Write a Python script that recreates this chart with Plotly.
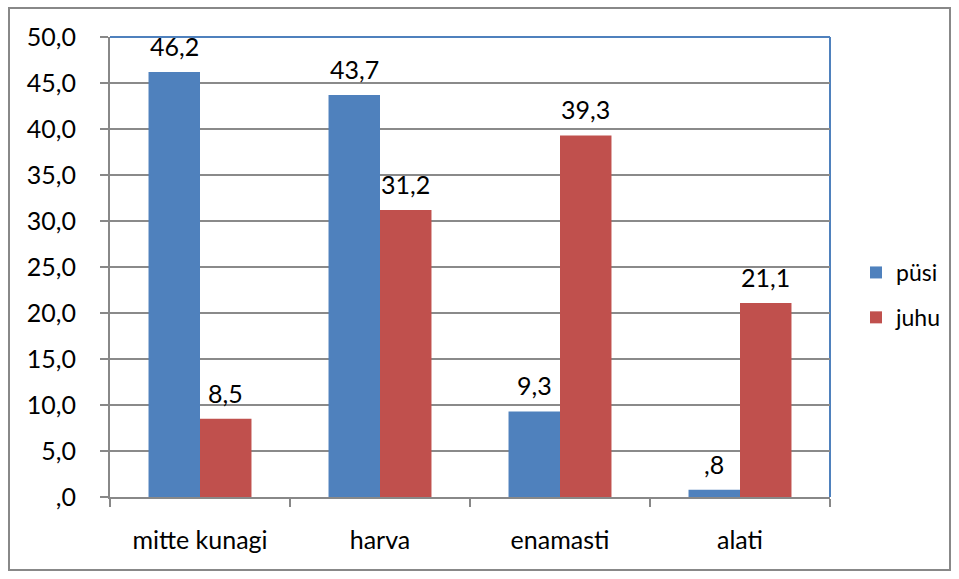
import plotly.graph_objects as go

categories = ["mitte kunagi", "harva", "enamasti", "alati"]
pusi = [46.2, 43.7, 9.3, 0.8]
juhu = [8.5, 31.2, 39.3, 21.1]
series_names = ["püsi", "juhu"]
colors = ["#4F81BD", "#C0504D"]
y_ticks = [0, 5, 10, 15, 20, 25, 30, 35, 40, 45, 50]


def fmt(v):
    s = f"{v:.1f}".replace(".", ",")
    if s.startswith("0,"):
        s = s[1:]
    return s


FONT = "Lato, 'Open Sans', sans-serif"
FS = 25
W, H = 959, 579
L, R, T, B = 110, 129, 37, 82
pw, ph = W - L - R, H - T - B

fig = go.Figure()
for i, (name, vals) in enumerate(zip(series_names, [pusi, juhu])):
    fig.add_trace(go.Bar(
        x=categories, y=vals, name=name,
        marker=dict(color=colors[i], line=dict(width=0)),
        legendgroup=name,
    ))

ann = []
for i, vals in enumerate([pusi, juhu]):
    shift = -25.75 if i == 0 else 25.75
    for c, v in zip(categories, vals):
        ann.append(dict(x=c, y=v, xref="x", yref="y", text=fmt(v), showarrow=False,
                        xshift=shift, yshift=26, yanchor="middle", xanchor="center",
                        font=dict(size=FS, color="black", family=FONT)))

shapes = [
    dict(type="rect", xref="paper", yref="paper",
         x0=(9 - L) / pw, x1=(950 - L) / pw,
         y0=(H - B - 570) / ph, y1=1 + (T - 8) / ph,
         line=dict(color="#888888", width=2), layer="below"),
    # plot area border (blue) on top and right
    dict(type="line", xref="paper", yref="paper", x0=0, x1=1, y0=1, y1=1,
         line=dict(color="#4F81BD", width=2), layer="below"),
    dict(type="line", xref="paper", yref="paper", x0=1, x1=1, y0=0, y1=1,
         line=dict(color="#4F81BD", width=2), layer="below"),
]

fig.update_layout(
    width=W, height=H,
    margin=dict(l=L, r=R, t=T, b=B, autoexpand=False),
    paper_bgcolor="white", plot_bgcolor="white",
    barmode="group", bargap=0.428, bargroupgap=0,
    font=dict(family=FONT, size=FS, color="black"),
    showlegend=True,
    legend=dict(x=(856 - L) / pw, y=1 - (295 - T) / ph, xanchor="left", yanchor="middle",
                font=dict(size=23, family=FONT), tracegroupgap=12,
                bgcolor="rgba(0,0,0,0)", itemwidth=30),
    annotations=ann,
    shapes=shapes,
    xaxis=dict(showline=True, linecolor="#888888", linewidth=2,
               ticks="outside", tickson="boundaries", ticklen=8, tickcolor="#888888",
               tickwidth=2, ticklabelstandoff=20, showgrid=False, automargin=False,
               tickfont=dict(size=FS, family=FONT), mirror=False),
    yaxis=dict(range=[0, 50], tickvals=y_ticks, ticktext=[fmt(v) for v in y_ticks],
               showline=True, linecolor="#888888", linewidth=2, automargin=False,
               ticks="outside", ticklen=8, tickcolor="#888888", tickwidth=2,
               ticklabelstandoff=19, showgrid=True, gridcolor="#8a8a8a", gridwidth=1.5,
               zeroline=False, tickfont=dict(size=FS, family=FONT)),
)

fig.write_html("out.html", config={"displayModeBar": False},
               post_script="document.body.style.margin='0';document.body.style.overflow='hidden';")
